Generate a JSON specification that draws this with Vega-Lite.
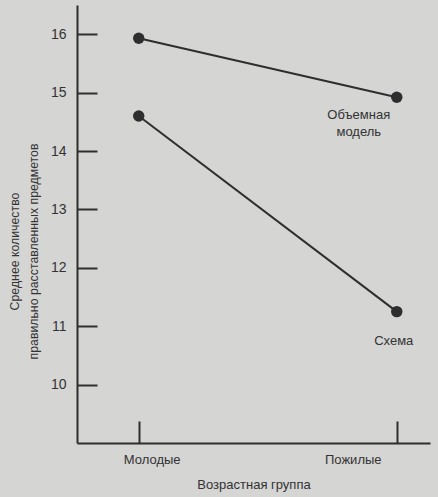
{
  "$schema": "https://vega.github.io/schema/vega-lite/v6.json",
  "description": "Mean number of correctly placed objects by age group",
  "background": "#d5d5d3",
  "autosize": "none",
  "padding": {"left": 77, "top": 5, "right": 8, "bottom": 54},
  "width": 353,
  "height": 438,
  "config": {
    "view": {"stroke": null},
    "font": "Liberation Sans, Arial, sans-serif",
    "axis": {
      "domainColor": "#2e2e2e",
      "domainWidth": 2,
      "tickColor": "#2e2e2e",
      "tickWidth": 2,
      "labelColor": "#333333",
      "titleColor": "#333333",
      "labelFontSize": 14,
      "titleFontSize": 13,
      "titleFontWeight": "normal",
      "grid": false
    }
  },
  "data": {
    "values": [
      {"group": "Молодые", "series": "Объемная модель", "label": "Объемная\nмодель", "value": 15.93},
      {"group": "Пожилые", "series": "Объемная модель", "label": "Объемная\nмодель", "value": 14.92},
      {"group": "Молодые", "series": "Схема", "label": "Схема", "value": 14.6},
      {"group": "Пожилые", "series": "Схема", "label": "Схема", "value": 11.25}
    ]
  },
  "encoding": {
    "x": {
      "field": "group",
      "type": "ordinal",
      "sort": ["Молодые", "Пожилые"],
      "scale": {"type": "point", "padding": 0.184, "align": 0.65},
      "axis": {
        "title": "Возрастная группа",
        "labelAngle": 0,
        "tickSize": -22,
        "labelPadding": 32,
        "titlePadding": 12,
        "labelFontSize": 13,
        "labelOffset": {"condition": {"test": "datum.value === 'Молодые'", "value": 13}, "value": -44}
      }
    },
    "y": {
      "field": "value",
      "type": "quantitative",
      "scale": {"domain": [9, 16.5], "nice": false, "zero": false},
      "axis": {
        "values": [10, 11, 12, 13, 14, 15, 16],
        "tickSize": -20,
        "labelPadding": 31,
        "title": ["Среднее количество", "правильно расставленных предметов"],
        "titleAngle": -90,
        "titleX": -56,
        "titleY": 246,
        "titleAlign": "center",
        "titleBaseline": "bottom",
        "titleFontSize": 12.3,
        "titleLineHeight": 19
      }
    }
  },
  "layer": [
    {
      "mark": {"type": "line", "color": "#2e2e2e", "strokeWidth": 2},
      "encoding": {"detail": {"field": "series"}}
    },
    {
      "mark": {"type": "circle", "color": "#2e2e2e", "opacity": 1, "size": 130}
    },
    {
      "transform": [{"filter": "datum.group === 'Пожилые' && datum.series === 'Объемная модель'"}],
      "mark": {"type": "text", "lineBreak": "\n", "dx": -38, "dy": 12, "baseline": "top", "fontSize": 13, "lineHeight": 17, "color": "#333333"},
      "encoding": {"text": {"field": "label"}}
    },
    {
      "transform": [{"filter": "datum.group === 'Пожилые' && datum.series === 'Схема'"}],
      "mark": {"type": "text", "dx": -3, "dy": 29, "baseline": "middle", "fontSize": 13, "color": "#333333"},
      "encoding": {"text": {"field": "label"}}
    }
  ]
}
